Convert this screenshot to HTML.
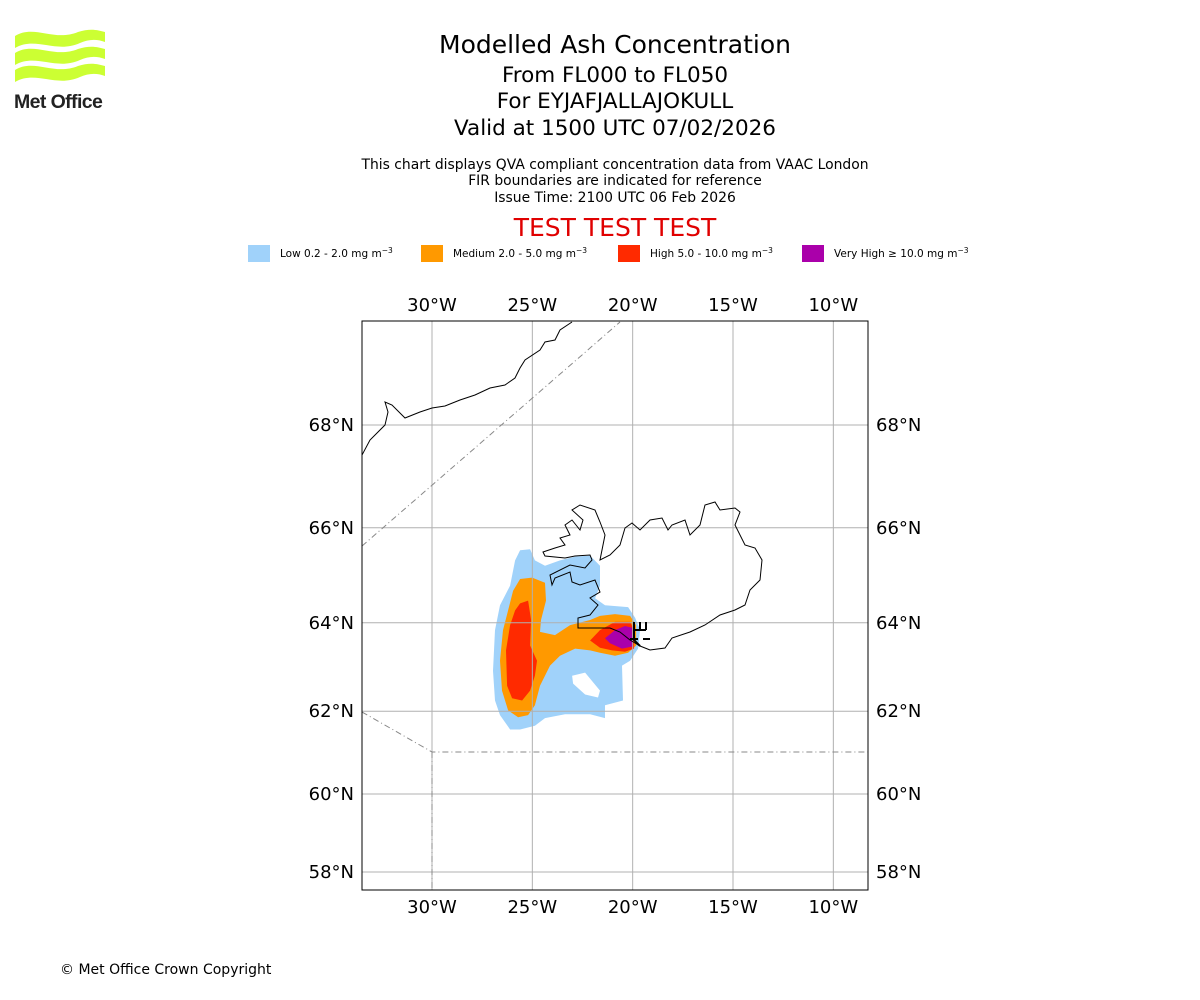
<!DOCTYPE html>
<html><head><meta charset="utf-8"><style>
body{margin:0;background:#fff;font-family:"DejaVu Sans","Liberation Sans",sans-serif;}
#wrap{position:relative;width:1200px;height:1000px;overflow:hidden}
.t{position:absolute;left:0;width:1230px;text-align:center;color:#000}
</style></head><body>
<div id="wrap">
<svg style="position:absolute;left:12px;top:28px" width="100" height="85">
<g fill="#ccff33">
<path d="M3,8 C22,-4 42,14 66,4 C78,0 86,2 93,4 L93,14 C85,11 77,11 68,15 C44,26 24,8 3,20Z"/>
<path d="M3,25 C22,13 42,31 66,21 C78,17 86,19 93,21 L93,31 C85,28 77,28 68,32 C44,43 24,25 3,37Z"/>
<path d="M3,42 C22,30 42,48 66,38 C78,34 86,36 93,38 L93,48 C85,45 77,45 68,49 C44,60 24,42 3,54Z"/>
</g>
<text x="2" y="80" font-family="Liberation Sans, sans-serif" font-weight="bold" font-size="19.5" fill="#222" letter-spacing="-0.6">Met Office</text>
</svg>
<div class="t" style="top:30px;font-size:25px">Modelled Ash Concentration</div>
<div class="t" style="top:63px;font-size:21.5px">From FL000 to FL050</div>
<div class="t" style="top:89px;font-size:21.5px">For EYJAFJALLAJOKULL</div>
<div class="t" style="top:116px;font-size:21.5px">Valid at 1500 UTC 07/02/2026</div>
<div class="t" style="top:157px;font-size:13.9px">This chart displays QVA compliant concentration data from VAAC London</div>
<div class="t" style="top:173px;font-size:13.9px">FIR boundaries are indicated for reference</div>
<div class="t" style="top:190px;font-size:13.9px">Issue Time: 2100 UTC 06 Feb 2026</div>
<div class="t" style="top:213px;font-size:25px;color:#e00000">TEST TEST TEST</div>
<div style="position:absolute;left:60px;top:962px;font-size:14px">© Met Office Crown Copyright</div>
<svg id="map" width="1200" height="1000" style="position:absolute;left:0;top:0"></svg>
</div>
<script>
const lonTicks=[-30,-25,-20,-15,-10];
const latTicks=[68,66,64,62,60,58];
const legendLabels=["Low 0.2 - 2.0 mg m","Medium 2.0 - 5.0 mg m","High 5.0 - 10.0 mg m","Very High  \u2265  10.0 mg m"];
const legendColors=["#a0d2fa","#ff9900","#ff2a00","#aa00aa"];
const lowArea=[[-25.61,65.54],[-25.11,65.56],[-24.87,65.33],[-24.37,65.22],[-23.62,65.33],[-22.87,65.41],[-22.12,65.43],[-21.63,65.22],[-21.63,64.8],[-21.87,64.53],[-21.38,64.38],[-20.23,64.34],[-19.88,64.11],[-19.63,63.84],[-19.73,63.43],[-20.13,63.16],[-20.53,63.05],[-20.48,62.25],[-21.38,62.14],[-21.38,61.84],[-22.12,61.93],[-23.37,61.93],[-24.37,61.84],[-24.87,61.66],[-25.61,61.57],[-26.11,61.57],[-26.61,61.91],[-26.86,62.25],[-26.96,62.93],[-26.86,63.84],[-26.61,64.38],[-26.11,64.8],[-25.86,65.33]];
const lowHole=[[-23.02,62.82],[-22.37,62.89],[-21.63,62.48],[-21.73,62.32],[-22.37,62.39],[-22.97,62.64]];
const mediumArea=[[-25.61,64.94],[-25.01,64.97],[-24.37,64.86],[-24.32,64.48],[-24.57,64.06],[-24.62,63.8],[-23.87,63.73],[-23.12,63.95],[-22.12,64.06],[-21.63,64.15],[-20.88,64.19],[-20.13,64.15],[-19.83,63.95],[-19.83,63.5],[-20.23,63.34],[-20.88,63.27],[-21.63,63.34],[-22.12,63.39],[-22.87,63.43],[-23.62,63.27],[-24.12,63.05],[-24.62,62.59],[-24.87,62.14],[-25.21,61.91],[-25.71,61.86],[-26.21,62.02],[-26.51,62.48],[-26.61,63.16],[-26.46,63.84],[-26.21,64.27],[-25.96,64.69]];
const highWest=[[-25.61,64.42],[-25.21,64.48],[-25.06,64.06],[-25.11,63.5],[-24.77,63.16],[-24.87,62.82],[-25.11,62.48],[-25.51,62.25],[-26.01,62.3],[-26.26,62.59],[-26.31,63.39],[-26.11,63.95],[-25.86,64.27]];
const highEast=[[-22.12,63.61],[-21.63,63.84],[-20.88,64.02],[-20.13,64.02],[-19.93,63.84],[-19.93,63.43],[-20.38,63.36],[-21.03,63.39],[-21.63,63.45]];
const veryHigh=[[-21.38,63.66],[-20.88,63.84],[-20.38,63.93],[-20.03,63.89],[-19.98,63.48],[-20.53,63.43],[-21.13,63.55]];

const NS="http://www.w3.org/2000/svg";
const svg=document.getElementById('map');
const X0=362,X1=868,Y0=321,Y1=890;
const merc=l=>Math.log(Math.tan(Math.PI/4+l*Math.PI/360));
const K=(872-425)/(merc(68)-merc(58));
function xs(lon){return 432+(lon+30)*K*Math.PI/180;}
function ys(lat){return 425-K*(merc(lat)-merc(68));}
function mk(t,a){const e=document.createElementNS(NS,t);for(const k in a)e.setAttribute(k,a[k]);svg.appendChild(e);return e;}
function ring(p){return 'M'+p.map(q=>xs(q[0]).toFixed(1)+','+ys(q[1]).toFixed(1)).join('L')+'Z';}

const clip=mk('clipPath',{id:'cp'});
const cr=document.createElementNS(NS,'rect');cr.setAttribute('x',X0);cr.setAttribute('y',Y0);cr.setAttribute('width',X1-X0);cr.setAttribute('height',Y1-Y0);clip.appendChild(cr);
const g=mk('g',{'clip-path':'url(#cp)'});
function add(t,a,parent){const e=document.createElementNS(NS,t);for(const k in a)e.setAttribute(k,a[k]);(parent||g).appendChild(e);return e;}

let e;
e=add('path',{d:ring(lowArea)+ring(lowHole),fill:legendColors[0],'fill-rule':'evenodd'});


e=add('path',{d:ring(mediumArea),fill:legendColors[1]});


e=add('path',{d:ring(highWest),fill:legendColors[2]});


e=add('path',{d:ring(highEast),fill:legendColors[2]});


e=add('path',{d:ring(veryHigh),fill:legendColors[3]});



lonTicks.forEach(l=>{const x=xs(l);
 e=add('line',{x1:x,x2:x,y1:Y0,y2:Y1,stroke:'#b0b0b0','stroke-width':1});
 
 
 [304,906].forEach(y=>{e=mk('text',{x:x,y:y+7,'font-size':18,'text-anchor':'middle'});e.textContent=(-l)+'°W';
 
 });
});
latTicks.forEach(l=>{const y=ys(l);
 e=add('line',{x1:X0,x2:X1,y1:y,y2:y,stroke:'#b0b0b0','stroke-width':1});
 
 
 e=mk('text',{x:354,y:y+6,'font-size':18,'text-anchor':'end'});e.textContent=l+'°N';
 
 
 e=mk('text',{x:876,y:y+6,'font-size':18});e.textContent=l+'°N';
 
 
});

e=add('path',{d:'M362,546L620,322M362,712L432,752L868,752M432,752L432,890',fill:'none',stroke:'#888','stroke-width':1,'stroke-dasharray':'6,3,1,3'});


e=add('path',{d:'M543,552L555,548L565,545L560,538L570,535L565,525L572,520L580,530L583,520L572,510L580,505L595,510L600,522L605,535L600,560L610,555L620,545L625,528L632,523L640,530L650,520L662,518L668,530L672,525L685,520L690,535L700,525L705,505L715,502L720,510L735,508L740,512L735,525L745,545L755,548L762,560L760,580L750,590L745,605L735,610L720,615L705,625L690,632L672,638L665,648L650,650L640,646L630,640L620,632L610,628L600,628L590,628L578,628L578,618L590,615L598,605L590,598L600,592L595,580L580,585L572,582L570,572L555,578L552,585L550,575L570,565L585,568L592,560L590,555L575,556L565,558L545,556Z',fill:'none',stroke:'#000','stroke-width':1});


e=add('path',{d:'M362,455L370,440L385,425L388,412L385,402L392,405L405,418L420,412L432,408L445,406L460,400L475,395L490,388L505,385L515,378L520,368L525,360L540,350L545,342L555,340L560,330L572,322',fill:'none',stroke:'#000','stroke-width':1});


e=add('path',{d:'M634,622L634,640L640,646M634,630L646,630M640,622L640,630M646,622L646,630M630,639L638,639M643,639L650,639',fill:'none',stroke:'#000','stroke-width':2});



e=mk('rect',{x:X0,y:Y0,width:X1-X0,height:Y1-Y0,fill:'none',stroke:'#000','stroke-width':1});



const lx=[248,421,618,802];
legendLabels.forEach((t,i)=>{
 e=mk('rect',{x:lx[i],y:245,width:22,height:17,fill:legendColors[i]});
 
 
 e=mk('text',{x:lx[i]+32,y:257,'font-size':10.5});e.textContent=t;
 
 
 const s=document.createElementNS(NS,'tspan');s.setAttribute('dy','-4');s.setAttribute('font-size','7.5');s.textContent='\u22123';e.appendChild(s);
});
</script>
</body></html>
